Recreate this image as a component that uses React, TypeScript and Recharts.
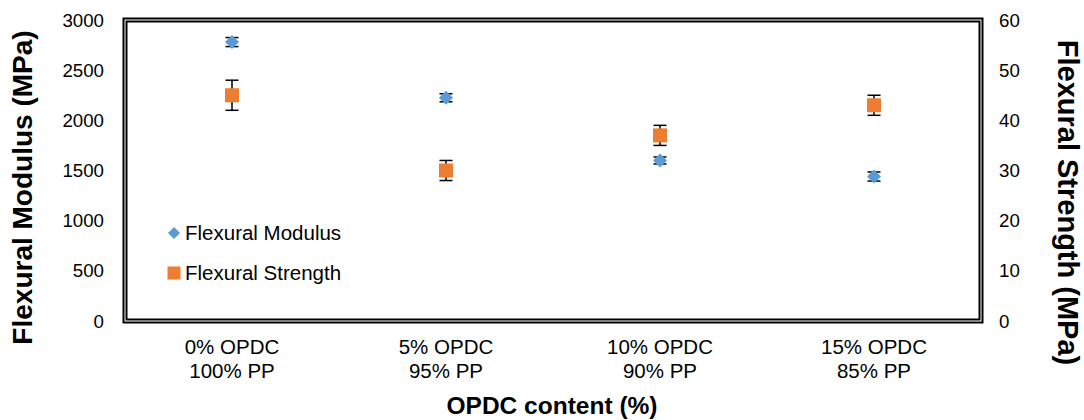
import { ComposedChart, Scatter, XAxis, YAxis, ErrorBar, Legend, ReferenceArea, Label } from 'recharts';

const FONT = '"Liberation Sans", Arial, sans-serif';
const BLUE = '#5B9BD5';
const ORANGE = '#ED7D31';

// mixture labels, two lines per category
const opdcLabels = ['0% OPDC', '5% OPDC', '10% OPDC', '15% OPDC'];
const ppLabels = ['100% PP', '95% PP', '90% PP', '85% PP'];

// flexural modulus (MPa), left axis
const modulus = [2780, 2225, 1600, 1440];
const modulusErr = [45, 40, 35, 45];

// flexural strength (MPa), right axis
const strength = [45, 30, 37, 43];
const strengthErr = [3, 2, 2, 2];

const leftTicks = [0, 500, 1000, 1500, 2000, 2500, 3000];
const rightTicks = [0, 10, 20, 30, 40, 50, 60];

const data = opdcLabels.map((name, i) => ({
  name,
  modulus: modulus[i],
  modulusErr: modulusErr[i],
  strength: strength[i],
  strengthErr: strengthErr[i],
}));

const Diamond = ({ cx, cy, r = 7 }: any) => (
  <polygon points={`${cx},${cy - r} ${cx + r},${cy} ${cx},${cy + r} ${cx - r},${cy}`} fill={BLUE} />
);

const Square = ({ cx, cy, r = 7 }: any) => (
  <rect x={cx - r} y={cy - r} width={r * 2} height={r * 2} fill={ORANGE} />
);

// double-line plot frame
const Frame = ({ x, y, width, height }: any) => (
  <g>
    <rect x={x} y={y} width={width} height={height} fill="none" stroke="#000" strokeWidth={5} />
    <rect x={x} y={y} width={width} height={height} fill="none" stroke="#fff" strokeWidth={1} />
  </g>
);

const CategoryTick = ({ x, y, payload }: any) => {
  const i = opdcLabels.indexOf(payload.value);
  return (
    <text x={x} y={y} textAnchor="middle" fontSize={20.5} fontFamily={FONT} fill="#000">
      <tspan x={x} dy={33}>{opdcLabels[i]}</tspan>
      <tspan x={x} dy={24}>{ppLabels[i]}</tspan>
    </text>
  );
};

const LegendBox = () => (
  <div style={{ fontFamily: FONT, fontSize: 20.5, color: '#000' }}>
    {[
      { label: 'Flexural Modulus', icon: <Diamond cx={8} cy={8} r={6} /> },
      { label: 'Flexural Strength', icon: <Square cx={8} cy={8} r={6.5} /> },
    ].map((item) => (
      <div key={item.label} style={{ display: 'flex', alignItems: 'center', height: 40 }}>
        <svg width={16} height={16} style={{ marginRight: 3 }}>{item.icon}</svg>
        <span>{item.label}</span>
      </div>
    ))}
  </div>
);

export default function App() {
  return (
    <div style={{ position: 'absolute', left: 0, top: 0, background: '#fff' }}>
      <ComposedChart width={1084} height={420} data={data} margin={{ top: 20, right: 0, bottom: 0, left: 0 }}>
        <XAxis
          dataKey="name"
          type="category"
          scale="band"
          height={99}
          axisLine={false}
          tickLine={false}
          tickSize={0}
          tickMargin={0}
          tick={<CategoryTick />}
          interval={0}
        >
          <Label
            content={({ viewBox }: any) => (
              <text
                x={viewBox.x + viewBox.width / 2 - 1}
                y={414}
                textAnchor="middle"
                fontSize={24.5}
                fontWeight="bold"
                fontFamily={FONT}
                fill="#000"
              >
                OPDC content (%)
              </text>
            )}
          />
        </XAxis>
        <YAxis
          yAxisId="left"
          width={125}
          domain={[0, 3000]}
          ticks={leftTicks}
          axisLine={false}
          tickLine={false}
          tickSize={0}
          tickMargin={21}
          tick={{ fontSize: 18.7, fontFamily: FONT, fill: '#000' }}
        >
          <Label
            content={({ viewBox }: any) => {
              const cx = viewBox.x + 22;
              const cy = viewBox.y + viewBox.height / 2 + 17;
              return (
                <text
                  x={cx}
                  y={cy}
                  transform={`rotate(-90 ${cx} ${cy})`}
                  textAnchor="middle"
                  dominantBaseline="central"
                  fontSize={28}
                  fontWeight="bold"
                  fontFamily={FONT}
                  fill="#000"
                >
                  Flexural Modulus (MPa)
                </text>
              );
            }}
          />
        </YAxis>
        <YAxis
          yAxisId="right"
          orientation="right"
          width={103}
          domain={[0, 60]}
          ticks={rightTicks}
          axisLine={false}
          tickLine={false}
          tickSize={0}
          tickMargin={18}
          tick={{ fontSize: 18.7, fontFamily: FONT, fill: '#000' }}
        >
          <Label
            content={({ viewBox }: any) => {
              const cx = viewBox.x + 87;
              const cy = viewBox.y + viewBox.height / 2 + 32;
              return (
                <text
                  x={cx}
                  y={cy}
                  transform={`rotate(90 ${cx} ${cy})`}
                  textAnchor="middle"
                  dominantBaseline="central"
                  fontSize={29}
                  fontWeight="bold"
                  fontFamily={FONT}
                  fill="#000"
                >
                  Flexural Strength (MPa)
                </text>
              );
            }}
          />
        </YAxis>
        <ReferenceArea yAxisId="left" shape={<Frame />} ifOverflow="visible" />
        <Scatter yAxisId="left" dataKey="modulus" name="Flexural Modulus" shape={<Diamond />} isAnimationActive={false}>
          <ErrorBar dataKey="modulusErr" direction="y" width={6.5} stroke="#000" strokeWidth={1.5} />
        </Scatter>
        <Scatter yAxisId="right" dataKey="strength" name="Flexural Strength" shape={<Square />} isAnimationActive={false}>
          <ErrorBar dataKey="strengthErr" direction="y" width={6.5} stroke="#000" strokeWidth={1.5} />
        </Scatter>
        <Legend
          layout="vertical"
          align="center"
          verticalAlign="middle"
          wrapperStyle={{ left: 166, top: 213, width: 'auto' }}
          content={<LegendBox />}
        />
      </ComposedChart>
    </div>
  );
}
